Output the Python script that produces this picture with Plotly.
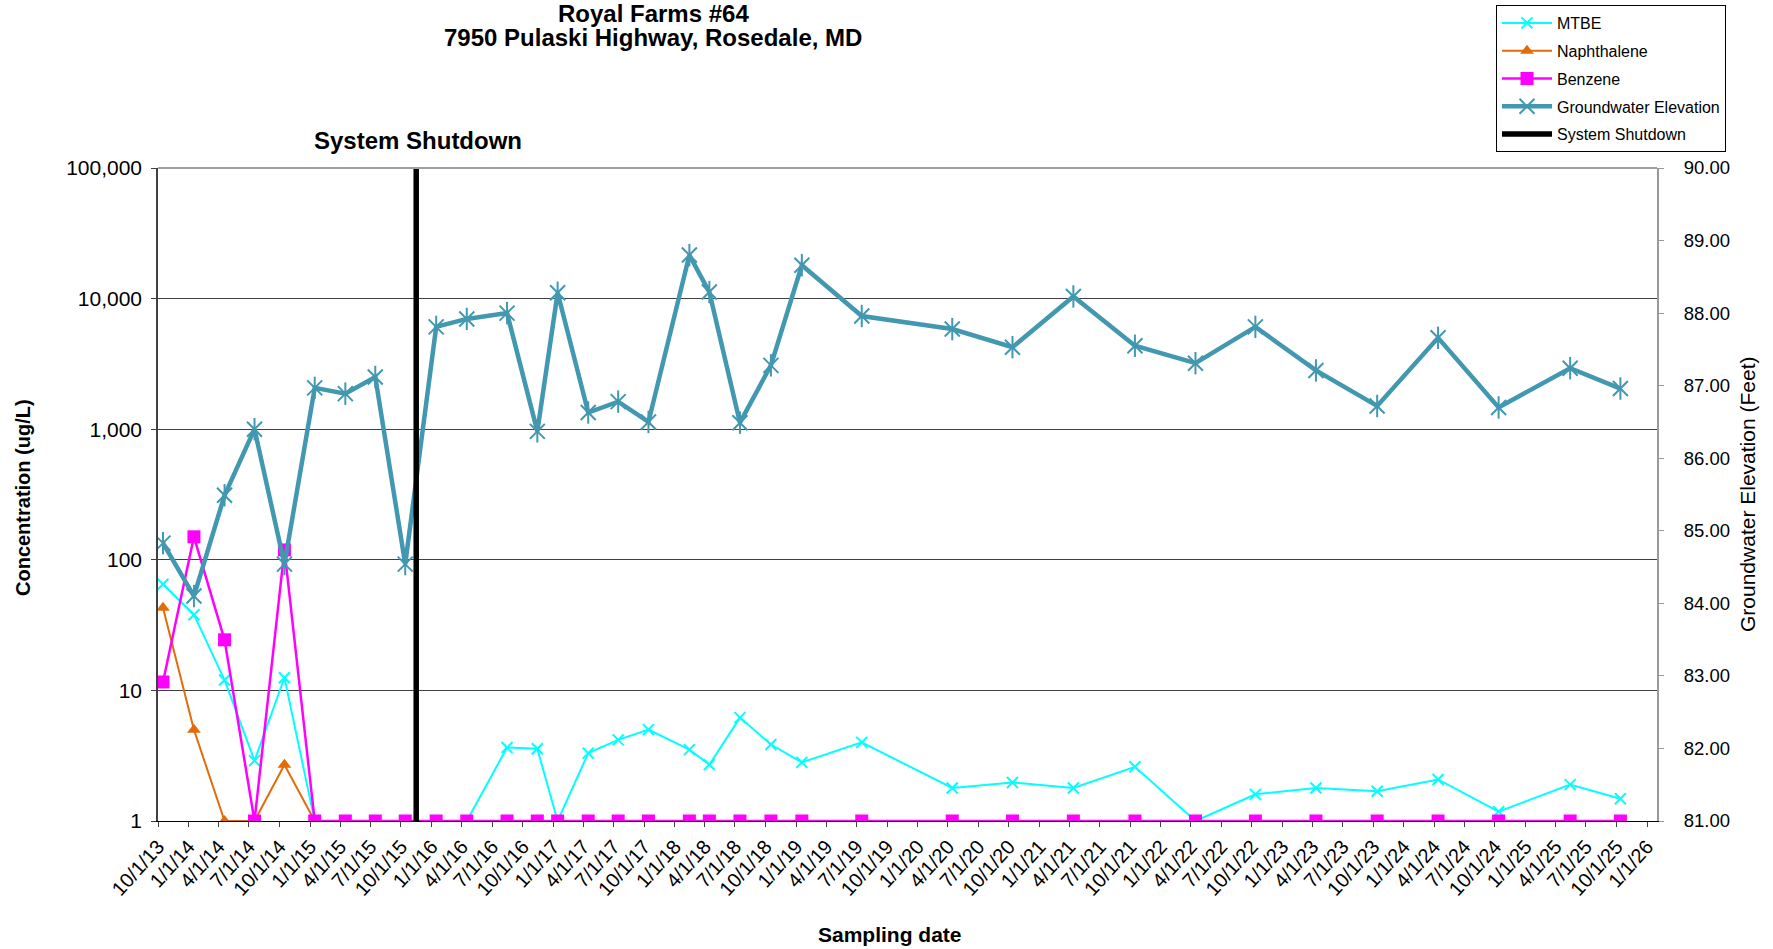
import pandas as pd
import plotly.graph_objects as go

# Sampling dates (shared by all series)
sample_dates = [
    "2013-10-16", "2014-01-17", "2014-04-19", "2014-07-18", "2014-10-16",
    "2015-01-15", "2015-04-17", "2015-07-16", "2015-10-14", "2016-01-15",
    "2016-04-16", "2016-08-15", "2016-11-14", "2017-01-14", "2017-04-16",
    "2017-07-15", "2017-10-14", "2018-02-14", "2018-04-15", "2018-07-16",
    "2018-10-17", "2019-01-18", "2019-07-17", "2020-04-14", "2020-10-12",
    "2021-04-13", "2021-10-15", "2022-04-15", "2022-10-12", "2023-04-12",
    "2023-10-13", "2024-04-13", "2024-10-12", "2025-05-15", "2025-10-13",
]

# Concentrations (ug/L); non-detects plotted at 1
mtbe = [65, 38, 12, 2.9, 12.5, 1, 1, 1, 1, 1,
        1, 3.65, 3.57, 1, 3.31, 4.18, 5.01, 3.52, 2.70, 6.19,
        3.85, 2.81, 4.0, 1.79, 1.97, 1.79, 2.60, 1.0, 1.60, 1.79,
        1.69, 2.08, 1.18, 1.90, 1.48]
naphthalene = [43, 5.0, 1, 1, 2.7, 1, 1, 1, 1, 1,
               1, 1, 1, 1, 1, 1, 1, 1, 1, 1,
               1, 1, 1, 1, 1, 1, 1, 1, 1, 1,
               1, 1, 1, 1, 1]
benzene = [11.6, 150, 24.4, 1, 119, 1, 1, 1, 1, 1,
           1, 1, 1, 1, 1, 1, 1, 1, 1, 1,
           1, 1, 1, 1, 1, 1, 1, 1, 1, 1,
           1, 1, 1, 1, 1]

# Groundwater elevation (feet)
gw_elev = [84.83, 84.10, 85.49, 86.40, 84.54, 86.97, 86.89, 87.12, 84.54, 87.81,
           87.92, 88.00, 86.37, 88.28, 86.63, 86.78, 86.50, 88.80, 88.29, 86.49,
           87.28, 88.66, 87.96, 87.78, 87.53, 88.23, 87.55, 87.31, 87.81, 87.21,
           86.72, 87.66, 86.70, 87.24, 86.96]

shutdown_date = "2015-11-16"

conc_ticks = [1, 10, 100, 1000, 10000, 100000]
conc_tick_text = ["1", "10", "100", "1,000", "10,000", "100,000"]

quarters = pd.date_range("2013-10-01", "2026-01-01", freq="QS-JAN")
quarter_text = [f"{d.month}/{d.day}/{d.strftime('%y')}" for d in quarters]

FONT = "Liberation Sans, Arial, sans-serif"
TEAL = "#4298B0"

fig = go.Figure()

fig.add_trace(go.Scatter(
    x=sample_dates, y=mtbe, name="MTBE", mode="lines+markers",
    line=dict(color="#00FFFF", width=2),
    marker=dict(symbol="x-thin-open", size=11, color="#00FFFF",
                line=dict(color="#00FFFF", width=2)),
    legendgroup="a", yaxis="y"))
fig.add_trace(go.Scatter(
    x=sample_dates, y=naphthalene, name="Naphthalene", mode="lines+markers",
    line=dict(color="#E36C0A", width=2),
    marker=dict(symbol="triangle-up", size=12, color="#E36C0A"),
    legendgroup="b", yaxis="y"))
fig.add_trace(go.Scatter(
    x=sample_dates, y=benzene, name="Benzene", mode="lines+markers",
    line=dict(color="#FF00FF", width=2.5),
    marker=dict(symbol="square", size=13, color="#FF00FF"),
    legendgroup="c", yaxis="y"))
fig.add_trace(go.Scatter(
    x=sample_dates, y=gw_elev, name="Groundwater Elevation", mode="lines+markers",
    line=dict(color=TEAL, width=4.5),
    marker=dict(symbol="x-thin-open", size=15, color=TEAL,
                line=dict(color=TEAL, width=2)),
    legendgroup="d", yaxis="y2"))
# vertical stroke completing the star markers
fig.add_trace(go.Scatter(
    x=sample_dates, y=gw_elev, mode="markers", showlegend=False, hoverinfo="skip",
    marker=dict(symbol="line-ns-open", size=16, color=TEAL,
                line=dict(color=TEAL, width=2)),
    legendgroup="d", yaxis="y2"))
fig.add_trace(go.Scatter(
    x=[shutdown_date, shutdown_date], y=[81, 90], name="System Shutdown", mode="lines",
    line=dict(color="#000000", width=5.5),
    legendgroup="e", yaxis="y2"))

fig.update_layout(
    width=1773, height=949,
    margin=dict(l=158, r=116, t=168, b=128, autoexpand=False),
    paper_bgcolor="white", plot_bgcolor="white",
    font=dict(family=FONT, color="#000000"),
    showlegend=True,
    legend=dict(
        xref="container", yref="container",
        x=1496 / 1773, y=1 - 5 / 949, xanchor="left", yanchor="top",
        bordercolor="#000000", borderwidth=1, bgcolor="white",
        font=dict(family=FONT, size=16), tracegroupgap=4,
        itemwidth=50,
    ),
    xaxis=dict(
        type="date", range=["2013-10-01", "2026-01-31"],
        tickvals=quarters, ticktext=quarter_text, tickangle=-48,
        tickfont=dict(family=FONT, size=20),
        ticks="outside", ticklen=5, tickcolor="#404040",
        showline=True, linecolor="#000000", linewidth=1,
        showgrid=False, zeroline=False,
    ),
    yaxis=dict(
        type="log", range=[0, 5],
        tickvals=conc_ticks, ticktext=conc_tick_text,
        tickfont=dict(family=FONT, size=21),
        ticks="outside", ticklen=5, tickcolor="#404040",
        ticklabelstandoff=5,
        showline=True, linecolor="#404040", linewidth=1.5,
        showgrid=True, gridcolor="#404040", gridwidth=1,
        zeroline=False,
    ),
    yaxis2=dict(
        overlaying="y", side="right", range=[81, 90], dtick=1,
        tickformat=".2f",
        tickfont=dict(family=FONT, size=18.5),
        ticks="outside", ticklen=5, tickcolor="#999999",
        ticklabelstandoff=16,
        showline=True, linecolor="#999999", linewidth=2,
        showgrid=False, zeroline=False,
    ),
    shapes=[dict(type="line", xref="paper", yref="paper", x0=0, x1=1, y0=1, y1=1,
                 line=dict(color="#A0A0A0", width=2), layer="above")],
)

plot_h = 949 - 168 - 128
plot_w = 1773 - 158 - 116


def py(pix):
    return (821 - pix) / plot_h


def px(pix):
    return (pix - 158) / plot_w


annotations = [
    dict(text="<b>Royal Farms #64</b>", x=px(653), y=py(13), xref="paper", yref="paper",
         showarrow=False, font=dict(family=FONT, size=24), xanchor="center", yanchor="middle"),
    dict(text="<b>7950 Pulaski Highway, Rosedale, MD</b>", x=px(653), y=py(37),
         xref="paper", yref="paper", showarrow=False,
         font=dict(family=FONT, size=24), xanchor="center", yanchor="middle"),
    dict(text="<b>System Shutdown</b>", x=px(418), y=py(140), xref="paper", yref="paper",
         showarrow=False, font=dict(family=FONT, size=24), xanchor="center", yanchor="middle"),
    dict(text="<b>Concentration (ug/L)</b>", x=px(23), y=py(498), xref="paper", yref="paper",
         showarrow=False, textangle=-90, font=dict(family=FONT, size=20),
         xanchor="center", yanchor="middle"),
    dict(text="Groundwater Elevation (Feet)", x=px(1748), y=py(495), xref="paper", yref="paper",
         showarrow=False, textangle=-90, font=dict(family=FONT, size=21),
         xanchor="center", yanchor="middle"),
    dict(text="<b>Sampling date</b>", x=px(890), y=py(934), xref="paper", yref="paper",
         showarrow=False, font=dict(family=FONT, size=21), xanchor="center", yanchor="middle"),
]
fig.update_layout(annotations=annotations)

fig.write_html("out.html")
